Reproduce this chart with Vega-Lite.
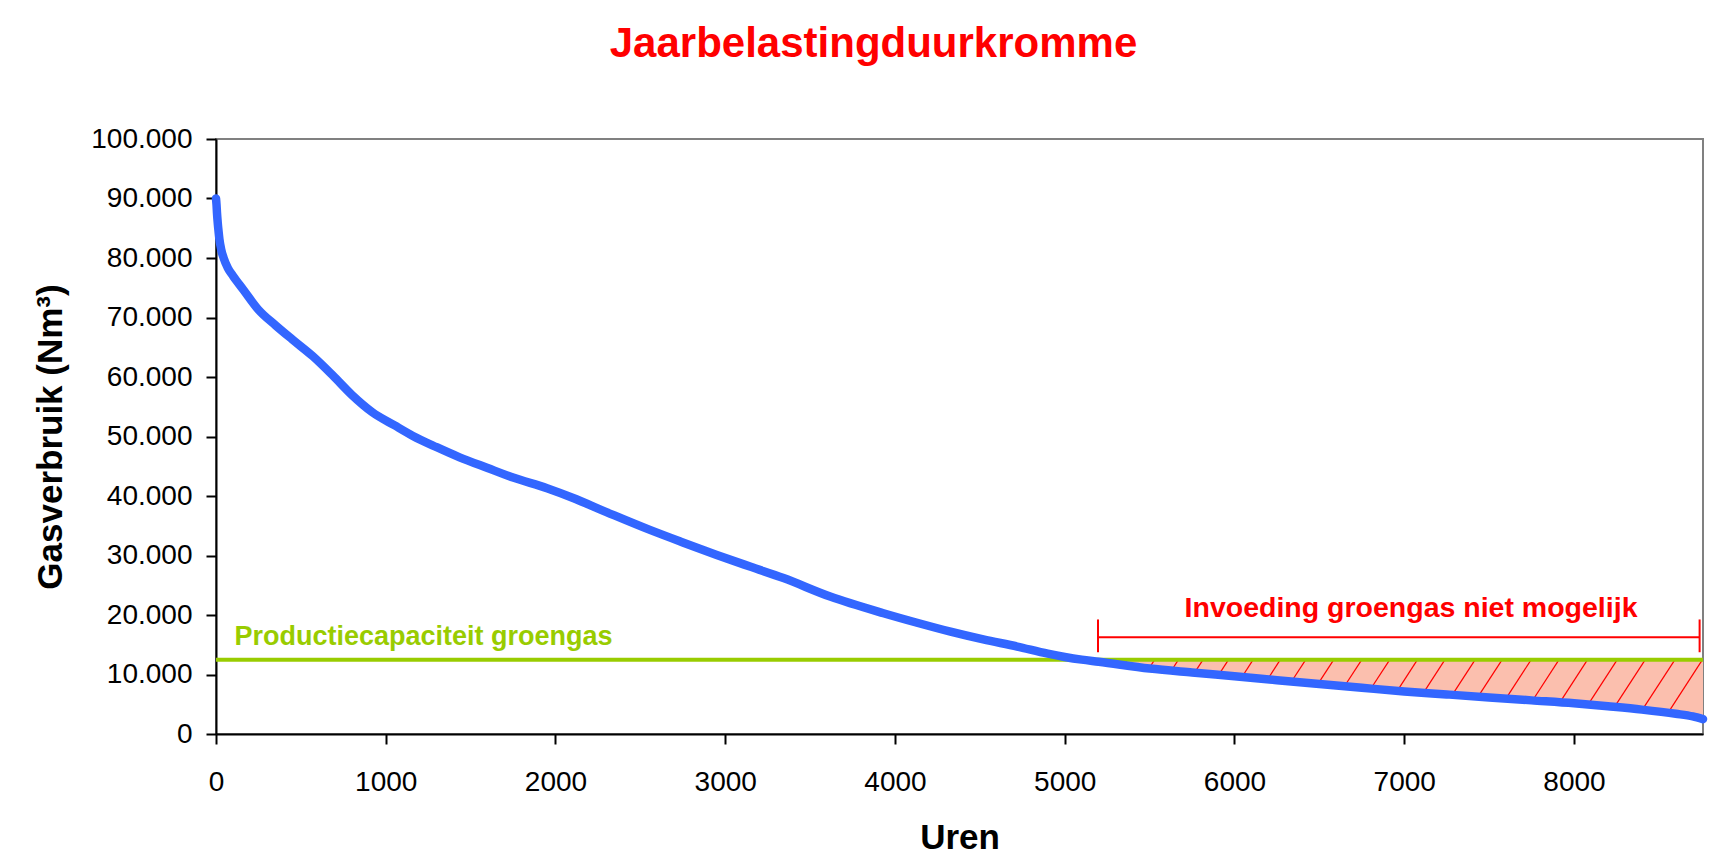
{
  "$schema": "https://vega.github.io/schema/vega-lite/v6.json",
  "width": 1487,
  "height": 595,
  "autosize": {"type": "none"},
  "padding": {"left": 216, "top": 139, "right": 12, "bottom": 133},
  "background": "white",
  "config": {
    "font": "Liberation Sans",
    "locale": {"number": {"decimal": ",", "thousands": ".", "grouping": [3], "currency": ["€", ""]}},
    "view": {"stroke": "#808080", "strokeWidth": 2},
    "axis": {
      "grid": false,
      "domainColor": "#000000",
      "domainWidth": 2,
      "tickColor": "#000000",
      "tickWidth": 2,
      "tickSize": 10,
      "labelFont": "Liberation Sans",
      "labelFontSize": 28,
      "labelColor": "#000000",
      "titleFont": "Liberation Sans",
      "titleFontSize": 35,
      "titleFontWeight": "bold",
      "titleColor": "#000000"
    }
  },
  "title": {
    "text": "Jaarbelastingduurkromme",
    "color": "#FF0000",
    "fontSize": 42,
    "fontWeight": "bold",
    "font": "Liberation Sans",
    "anchor": "middle",
    "dx": -86,
    "offset": 59
  },
  "datasets": {
    "curve": [
      {"h": 0, "v": 90000}, {"h": 3, "v": 89000}, {"h": 6, "v": 87500}, {"h": 10, "v": 86000},
      {"h": 15, "v": 84500}, {"h": 20, "v": 83200}, {"h": 30, "v": 81500}, {"h": 45, "v": 80000},
      {"h": 70, "v": 78300}, {"h": 100, "v": 77000}, {"h": 160, "v": 74700}, {"h": 250, "v": 71300},
      {"h": 350, "v": 68700}, {"h": 450, "v": 66300}, {"h": 570, "v": 63500}, {"h": 690, "v": 60200},
      {"h": 800, "v": 57000}, {"h": 920, "v": 54100}, {"h": 1050, "v": 51900}, {"h": 1160, "v": 50100},
      {"h": 1300, "v": 48200}, {"h": 1435, "v": 46500}, {"h": 1600, "v": 44700}, {"h": 1750, "v": 43100},
      {"h": 1950, "v": 41300}, {"h": 2100, "v": 39700}, {"h": 2300, "v": 37300}, {"h": 2556, "v": 34300},
      {"h": 2750, "v": 32200}, {"h": 2950, "v": 30100}, {"h": 3150, "v": 28100}, {"h": 3343, "v": 26200},
      {"h": 3618, "v": 23100}, {"h": 3932, "v": 20300}, {"h": 4130, "v": 18700}, {"h": 4327, "v": 17200},
      {"h": 4520, "v": 15900}, {"h": 4720, "v": 14700}, {"h": 4900, "v": 13500}, {"h": 5000, "v": 12950},
      {"h": 5100, "v": 12500}, {"h": 5200, "v": 12150}, {"h": 5500, "v": 11000}, {"h": 5750, "v": 10330},
      {"h": 6000, "v": 9700}, {"h": 6250, "v": 9050}, {"h": 6500, "v": 8400}, {"h": 6750, "v": 7770},
      {"h": 7000, "v": 7150}, {"h": 7250, "v": 6650}, {"h": 7500, "v": 6150}, {"h": 7750, "v": 5650},
      {"h": 8000, "v": 5150}, {"h": 8200, "v": 4650}, {"h": 8400, "v": 4100}, {"h": 8600, "v": 3400},
      {"h": 8700, "v": 2950}, {"h": 8760, "v": 2500}
    ],
    "hatch": [
      {"h1": 5370, "v1": 12500, "h2": 5349, "v2": 11578},
      {"h1": 5530, "v1": 12500, "h2": 5496, "v2": 11015},
      {"h1": 5670, "v1": 12500, "h2": 5629, "v2": 10665},
      {"h1": 5815, "v1": 12500, "h2": 5765, "v2": 10311},
      {"h1": 5965, "v1": 12500, "h2": 5907, "v2": 9942},
      {"h1": 6110, "v1": 12500, "h2": 6044, "v2": 9586},
      {"h1": 6270, "v1": 12500, "h2": 6195, "v2": 9193},
      {"h1": 6420, "v1": 12500, "h2": 6336, "v2": 8826},
      {"h1": 6585, "v1": 12500, "h2": 6492, "v2": 8421},
      {"h1": 6750, "v1": 12500, "h2": 6648, "v2": 8030},
      {"h1": 6915, "v1": 12500, "h2": 6804, "v2": 7640},
      {"h1": 7078, "v1": 12500, "h2": 6959, "v2": 7252},
      {"h1": 7240, "v1": 12500, "h2": 7113, "v2": 6924},
      {"h1": 7418, "v1": 12500, "h2": 7283, "v2": 6584},
      {"h1": 7577, "v1": 12500, "h2": 7435, "v2": 6280},
      {"h1": 7748, "v1": 12500, "h2": 7599, "v2": 5952},
      {"h1": 7912, "v1": 12500, "h2": 7756, "v2": 5638},
      {"h1": 8080, "v1": 12500, "h2": 7917, "v2": 5316},
      {"h1": 8255, "v1": 12500, "h2": 8083, "v2": 4932},
      {"h1": 8420, "v1": 12500, "h2": 8238, "v2": 4525},
      {"h1": 8595, "v1": 12500, "h2": 8403, "v2": 4089},
      {"h1": 8757, "v1": 12500, "h2": 8554, "v2": 3561}
    ],
    "bracket": [
      {"h1": 5196, "v1": 16270, "h2": 8740, "v2": 16270},
      {"h1": 5196, "v1": 13740, "h2": 5196, "v2": 19250},
      {"h1": 8740, "v1": 13740, "h2": 8740, "v2": 19250}
    ],
    "labels": [
      {"h": 109, "v": 15000, "label": "Productiecapaciteit  groengas", "kind": "capaciteit"},
      {"h": 7040, "v": 19700, "label": "Invoeding groengas niet mogelijk", "kind": "invoeding"}
    ]
  },
  "layer": [
    {
      "data": {"name": "curve"},
      "transform": [{"filter": "datum.h >= 5100"}],
      "mark": {"type": "area", "fill": "#FBBFAE", "opacity": 1, "interpolate": "monotone"},
      "encoding": {
        "x": {"field": "h", "type": "quantitative", "title": "Uren", "scale": {"domain": [0, 8760], "nice": false}},
        "y": {"field": "v", "type": "quantitative", "title": "Gasverbruik (Nm³)", "scale": {"domain": [0, 100000], "nice": false}},
        "y2": {"datum": 12500}
      }
    },
    {
      "data": {"name": "hatch"},
      "mark": {"type": "rule", "color": "#FF0000", "strokeWidth": 1.2},
      "encoding": {
        "x": {"field": "h1", "type": "quantitative", "title": "Uren", "scale": {"domain": [0, 8760], "nice": false}},
        "y": {"field": "v1", "type": "quantitative", "title": "Gasverbruik (Nm³)", "scale": {"domain": [0, 100000], "nice": false}},
        "x2": {"field": "h2"},
        "y2": {"field": "v2"}
      }
    },
    {
      "data": {"values": [{}]},
      "mark": {"type": "rule", "color": "#99CC00", "strokeWidth": 4},
      "encoding": {
        "y": {"datum": 12500, "type": "quantitative", "title": "Gasverbruik (Nm³)", "scale": {"domain": [0, 100000], "nice": false}}
      }
    },
    {
      "data": {"name": "curve"},
      "mark": {"type": "line", "color": "#3366FF", "strokeWidth": 8.5, "strokeCap": "round", "strokeJoin": "round", "interpolate": "monotone"},
      "encoding": {
        "x": {
          "field": "h", "type": "quantitative", "title": "Uren",
          "scale": {"domain": [0, 8760], "nice": false},
          "axis": {"values": [0, 1000, 2000, 3000, 4000, 5000, 6000, 7000, 8000], "format": "d", "labelPadding": 24, "titlePadding": 24, "labelFlush": false}
        },
        "y": {
          "field": "v", "type": "quantitative", "title": "Gasverbruik (Nm³)",
          "scale": {"domain": [0, 100000], "nice": false},
          "axis": {"values": [0, 10000, 20000, 30000, 40000, 50000, 60000, 70000, 80000, 90000, 100000], "format": ",d", "labelPadding": 14, "titlePadding": 22}
        }
      }
    },
    {
      "data": {"name": "bracket"},
      "mark": {"type": "rule", "color": "#FF0000", "strokeWidth": 2},
      "encoding": {
        "x": {"field": "h1", "type": "quantitative", "title": "Uren", "scale": {"domain": [0, 8760], "nice": false}},
        "y": {"field": "v1", "type": "quantitative", "title": "Gasverbruik (Nm³)", "scale": {"domain": [0, 100000], "nice": false}},
        "x2": {"field": "h2"},
        "y2": {"field": "v2"}
      }
    },
    {
      "data": {"name": "labels"},
      "transform": [{"filter": "datum.kind === 'capaciteit'"}],
      "mark": {"type": "text", "color": "#99CC00", "fontSize": 27, "fontWeight": "bold", "font": "Liberation Sans", "align": "left", "baseline": "alphabetic"},
      "encoding": {
        "x": {"field": "h", "type": "quantitative", "title": "Uren", "scale": {"domain": [0, 8760], "nice": false}},
        "y": {"field": "v", "type": "quantitative", "title": "Gasverbruik (Nm³)", "scale": {"domain": [0, 100000], "nice": false}},
        "text": {"field": "label"}
      }
    },
    {
      "data": {"name": "labels"},
      "transform": [{"filter": "datum.kind === 'invoeding'"}],
      "mark": {"type": "text", "color": "#FF0000", "fontSize": 28.5, "fontWeight": "bold", "font": "Liberation Sans", "align": "center", "baseline": "alphabetic"},
      "encoding": {
        "x": {"field": "h", "type": "quantitative", "title": "Uren", "scale": {"domain": [0, 8760], "nice": false}},
        "y": {"field": "v", "type": "quantitative", "title": "Gasverbruik (Nm³)", "scale": {"domain": [0, 100000], "nice": false}},
        "text": {"field": "label"}
      }
    }
  ]
}
